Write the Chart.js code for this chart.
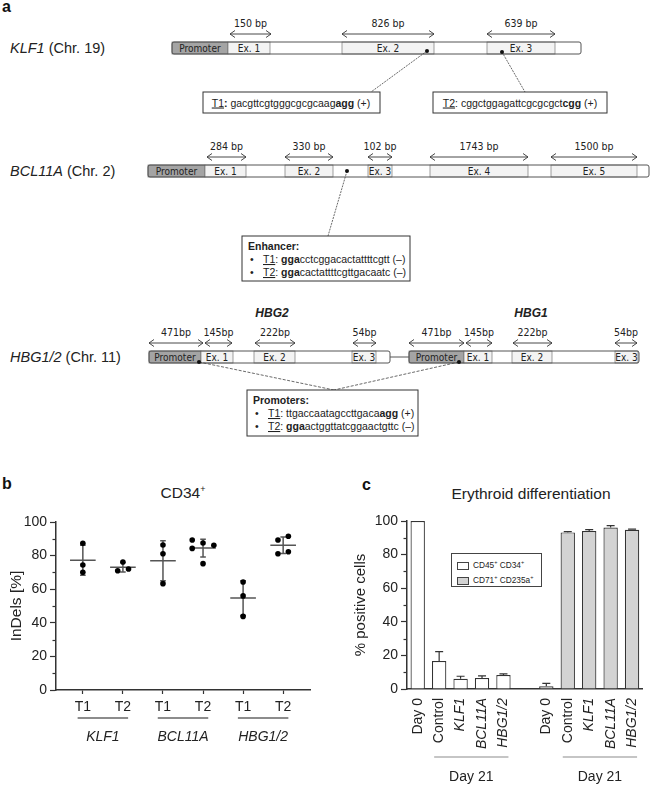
<!DOCTYPE html>
<html>
<head>
<meta charset="utf-8">
<script src="https://cdn.jsdelivr.net/npm/chart.js@4.4.1/dist/chart.umd.min.js"></script>
<style>
html,body{margin:0;padding:0;background:#fff;}
#wrap{position:relative;width:658px;height:785px;overflow:hidden;background:#fff;font-family:'Liberation Sans',Arial,sans-serif;color:#222;}
#diagram{position:absolute;left:0;top:0;}
#cb{position:absolute;left:0;top:470px;}
#cc{position:absolute;left:330px;top:470px;}
.plet{position:absolute;font-weight:bold;font-size:16px;color:#111;}
.ttl{position:absolute;font-size:15.5px;color:#222;text-align:center;white-space:nowrap;}
.ttl sup{font-size:9px;}
#legend{position:absolute;left:451px;top:553px;width:91px;height:34px;border:1px solid #444;background:#fff;font-size:8.3px;color:#222;box-sizing:border-box;}
#legend .row{position:absolute;left:5px;height:10px;line-height:10px;white-space:nowrap;}
#legend .sw{display:inline-block;width:12px;height:8px;border:1px solid #444;vertical-align:middle;margin-right:4px;box-sizing:border-box;}
#legend sup{font-size:5.5px;line-height:0;}
</style>
</head>
<body>
<div id="wrap">
  <svg id="diagram" width="658" height="465" xmlns="http://www.w3.org/2000/svg"></svg>
  <div class="plet" style="left:2px;top:-2px;">a</div>
  <div class="plet" style="left:2px;top:475px;">b</div>
  <div class="plet" style="left:362px;top:476px;">c</div>
  <div class="ttl" style="left:83px;width:200px;top:484px;">CD34<sup>+</sup></div>
  <div class="ttl" style="left:431px;width:200px;top:485px;">Erythroid differentiation</div>
  <canvas id="cb" width="330" height="315"></canvas>
  <canvas id="cc" width="328" height="315"></canvas>
  <div id="legend"></div>
</div>
<script>
// ---------------- Panel b data ----------------
const indelCategories = ['T1', 'T2', 'T1', 'T2', 'T1', 'T2'];
const indelGenes = ['KLF1', 'BCL11A', 'HBG1/2'];
const indelReplicates = [
  [87.3, 74.4, 70.1],
  [76.2, 71.0, 72.0],
  [86.3, 81.1, 63.3],
  [89.3, 84.3, 87.5, 75.2, 86.1],
  [64.3, 56.0, 43.8],
  [89.3, 91.5, 81.1, 82.3]
];
const indelJitter = [
  [0, 0, 0],
  [0, -0.13, 0.14],
  [0, 0, 0],
  [-0.27, -0.27, 0, 0, 0.27],
  [0, 0, 0],
  [-0.13, 0.13, -0.13, 0.13]
];
const indelMean = [77.2, 73.1, 76.9, 84.5, 54.7, 86.1];
const indelSD = [8.9, 2.8, 11.9, 5.3, 10.3, 4.9];
const percentTicks = [0, 20, 40, 60, 80, 100];
const percentMinorTicks = [10, 30, 50, 70, 90];

// ---------------- Panel c data ----------------
const diffCategories = ['Day 0', 'Control', 'KLF1', 'BCL11A', 'HBG1/2', '', 'Day 0', 'Control', 'KLF1', 'BCL11A', 'HBG1/2'];
const italicCategories = ['KLF1', 'BCL11A', 'HBG1/2'];
const cd45cd34Pos = [100, 16.6, 6.1, 6.5, 8.3, null, null, null, null, null, null];
const cd45cd34Sd  = [0, 5.6, 1.5, 1.3, 0.7, null, null, null, null, null, null];
const cd71cd235aPos = [null, null, null, null, null, null, 1.6, 93.2, 94.0, 96.1, 94.8];
const cd71cd235aSd  = [null, null, null, null, null, null, 1.8, 0.5, 0.9, 1.2, 0.4];
const diffGroupLabels = ['Day 21', 'Day 21'];
const diffGroupRanges = [[1, 4], [7, 10]];
const seriesNames = ['CD45⁺ CD34⁺', 'CD71⁺ CD235a⁺'];
const seriesNamesHtml = ['CD45<sup>+</sup> CD34<sup>+</sup>', 'CD71<sup>+</sup> CD235a<sup>+</sup>'];

// ---------------- Panel a (schematic) ----------------
const FONT = "'Liberation Sans', Arial, sans-serif";
const NARROW = "'Liberation Sans Narrow', 'DejaVu Sans Condensed', 'Liberation Sans', sans-serif";
const genes = [
  { italic: 'KLF1', rest: ' (Chr. 19)', top: 42,
    bars: [[172, 581]], promoters: [[172, 228]],
    exons: [[228, 270, 'Ex. 1'], [342, 434, 'Ex. 2'], [487, 555, 'Ex. 3']],
    arrows: [[230, 271, '150 bp'], [342, 434, '826 bp'], [487, 555, '639 bp']] },
  { italic: 'BCL11A', rest: ' (Chr. 2)', top: 165,
    bars: [[148, 649]], promoters: [[148, 205]],
    exons: [[205, 246, 'Ex. 1'], [285, 333, 'Ex. 2'], [368, 392, 'Ex. 3'], [430, 528, 'Ex. 4'], [551, 637, 'Ex. 5']],
    arrows: [[207, 246, '284 bp'], [285, 333, '330 bp'], [368, 392, '102 bp'], [430, 528, '1743 bp'], [551, 637, '1500 bp']] },
  { italic: 'HBG1/2', rest: ' (Chr. 11)', top: 351,
    bars: [[149, 390], [409, 639]], promoters: [[149, 201], [409, 464]],
    exons: [[201, 233, 'Ex. 1'], [254, 295, 'Ex. 2'], [352, 376, 'Ex. 3'], [464, 492, 'Ex. 1'], [512, 552, 'Ex. 2'], [615, 638, 'Ex. 3']],
    arrows: [[149, 203, '471bp'], [205, 232, '145bp'], [255, 295, '222bp'], [353, 376, '54bp'],
             [409, 464, '471bp'], [466, 492, '145bp'], [513, 552, '222bp'], [615, 637, '54bp']] }
];
const H = 12;
let s = '';
function arrow(x1, x2, y) {
  let o = `<line x1="${x1}" y1="${y}" x2="${x2}" y2="${y}" stroke="#333" stroke-width="0.9"/>`;
  o += `<polyline points="${x1+5},${y-3.5} ${x1},${y} ${x1+5},${y+3.5}" fill="none" stroke="#333" stroke-width="0.9"/>`;
  o += `<polyline points="${x2-5},${y-3.5} ${x2},${y} ${x2-5},${y+3.5}" fill="none" stroke="#333" stroke-width="0.9"/>`;
  return o;
}
genes.forEach(g => {
  const cy = g.top + H / 2;
  s += `<text x="10" y="${cy + 5}" font-family="${FONT}" font-size="14.5" fill="#222"><tspan font-style="italic">${g.italic}</tspan>${g.rest}</text>`;
  if (g.bars.length === 2) {
    s += `<line x1="${g.bars[0][1]}" y1="${cy}" x2="${g.bars[1][0]}" y2="${cy}" stroke="#555" stroke-width="1"/>`;
  }
  g.bars.forEach(b => {
    s += `<rect x="${b[0]}" y="${g.top}" width="${b[1]-b[0]}" height="${H}" rx="2" fill="#fff" stroke="none"/>`;
  });
  g.promoters.forEach(p => {
    s += `<rect x="${p[0]}" y="${g.top}" width="${p[1]-p[0]}" height="${H}" fill="#a4a4a4" stroke="#666" stroke-width="0.7"/>`;
    s += `<text x="${(p[0]+p[1])/2}" y="${g.top + 9.5}" text-anchor="middle" font-family="${NARROW}" font-size="10" fill="#222">Promoter</text>`;
  });
  g.exons.forEach(e => {
    s += `<rect x="${e[0]}" y="${g.top}" width="${e[1]-e[0]}" height="${H}" fill="#f3f3f3" stroke="#777" stroke-width="0.7"/>`;
    s += `<text x="${(e[0]+e[1])/2}" y="${g.top + 9.5}" text-anchor="middle" font-family="${NARROW}" font-size="10" fill="#222">${e[2]}</text>`;
  });
  g.bars.forEach(b => {
    s += `<rect x="${b[0]}" y="${g.top}" width="${b[1]-b[0]}" height="${H}" rx="2" fill="none" stroke="#555" stroke-width="1"/>`;
  });
  g.arrows.forEach(a => {
    s += arrow(a[0], a[1], g.top - 8);
    s += `<text x="${(a[0]+a[1])/2}" y="${g.top - 15}" text-anchor="middle" font-family="${NARROW}" font-size="10.5" fill="#222">${a[2]}</text>`;
  });
});
s += `<text x="272" y="317" text-anchor="middle" font-family="${FONT}" font-size="12" font-weight="bold" font-style="italic" fill="#222">HBG2</text>`;
s += `<text x="531" y="317" text-anchor="middle" font-family="${FONT}" font-size="12" font-weight="bold" font-style="italic" fill="#222">HBG1</text>`;
function conn(x1, y1, x2, y2, dash) {
  return `<line x1="${x1}" y1="${y1}" x2="${x2}" y2="${y2}" stroke="#444" stroke-width="0.8" stroke-dasharray="${dash}"/>`;
}
function dot(x, y) { return `<circle cx="${x}" cy="${y}" r="2" fill="#111"/>`; }
s += conn(427, 51, 371, 92, '2,1') + dot(427, 51);
s += conn(502, 52, 525, 92, '2,1') + dot(502, 52);
s += conn(347, 171, 328, 236, '2,1') + dot(347, 171);
s += conn(199, 362, 334, 390, '3,1.5') + conn(459, 362, 334, 390, '3,1.5') + dot(199, 362) + dot(459, 362);
function box(x1, y1, x2, y2) { return `<rect x="${x1}" y="${y1}" width="${x2-x1}" height="${y2-y1}" fill="#fff" stroke="#333" stroke-width="1"/>`; }
const T = `font-family="${FONT}" font-size="10.5" fill="#222"`;
s += box(203, 92, 380, 113);
s += `<text x="291" y="106.5" text-anchor="middle" ${T}><tspan text-decoration="underline">T1</tspan><tspan font-weight="bold">:</tspan> gacgttcgtgggcgcgcaag<tspan font-weight="bold">agg</tspan> (+)</text>`;
s += box(433, 92, 607, 113);
s += `<text x="520" y="106.5" text-anchor="middle" ${T}><tspan text-decoration="underline">T2</tspan>: cggctggagattcgcgcgct<tspan font-weight="bold">cgg</tspan> (+)</text>`;
s += box(242, 236, 410, 281);
s += `<text x="248" y="250" ${T} font-weight="bold">Enhancer:</text>`;
s += `<text x="250" y="263" ${T}>•</text><text x="263" y="263" ${T}><tspan text-decoration="underline">T1</tspan>: <tspan font-weight="bold">gga</tspan>cctcggacactattttcgtt (–)</text>`;
s += `<text x="250" y="276" ${T}>•</text><text x="263" y="276" ${T}><tspan text-decoration="underline">T2</tspan>: <tspan font-weight="bold">gga</tspan>cactattttcgttgacaatc (–)</text>`;
s += box(247, 390, 418, 436);
s += `<text x="253" y="404" ${T} font-weight="bold">Promoters:</text>`;
s += `<text x="255" y="417" ${T}>•</text><text x="268" y="417" ${T}><tspan text-decoration="underline">T1</tspan>: ttgaccaatagccttgaca<tspan font-weight="bold">agg</tspan> (+)</text>`;
s += `<text x="255" y="430" ${T}>•</text><text x="268" y="430" ${T}><tspan text-decoration="underline">T2</tspan>: <tspan font-weight="bold">gga</tspan>actggttatcggaactgttc (–)</text>`;
document.getElementById('diagram').innerHTML = s;

// ---------------- Charts ----------------
Chart.defaults.font.family = FONT;
Chart.defaults.color = '#222';
const AX = '#333';

const minorTickPlugin = {
  id: 'minorTicks',
  afterDraw(chart) {
    const y = chart.scales.y, ctx = chart.ctx, left = chart.chartArea.left;
    ctx.save();
    ctx.strokeStyle = AX; ctx.lineWidth = 1.2;
    percentMinorTicks.forEach(v => {
      const py = Math.round(y.getPixelForValue(v)) + 0.5;
      ctx.beginPath(); ctx.moveTo(left - 3.5, py); ctx.lineTo(left, py); ctx.stroke();
    });
    ctx.restore();
  }
};

// Panel b
const indelPoints = [];
indelReplicates.forEach((vals, i) => vals.forEach((v, k) => indelPoints.push({ x: i + 1 + indelJitter[i][k], y: v })));

const meanSdPlugin = {
  id: 'meanSd',
  beforeDatasetsDraw(chart) {
    const xs = chart.scales.x, ys = chart.scales.y, ctx = chart.ctx;
    ctx.save();
    ctx.strokeStyle = '#555'; ctx.lineWidth = 1.5;
    indelMean.forEach((m, i) => {
      const c = i + 1;
      const x = xs.getPixelForValue(c);
      const hw = xs.getPixelForValue(c + 0.32) - x;
      const cw = xs.getPixelForValue(c + 0.07) - x;
      const ym = ys.getPixelForValue(m), yt = ys.getPixelForValue(m + indelSD[i]), yb = ys.getPixelForValue(m - indelSD[i]);
      ctx.beginPath();
      ctx.moveTo(x - hw, ym); ctx.lineTo(x + hw, ym);
      ctx.moveTo(x, yt); ctx.lineTo(x, yb);
      ctx.moveTo(x - cw, yt); ctx.lineTo(x + cw, yt);
      ctx.moveTo(x - cw, yb); ctx.lineTo(x + cw, yb);
      ctx.stroke();
    });
    ctx.restore();
  },
  afterDraw(chart) {
    const xs = chart.scales.x, ctx = chart.ctx, bottom = chart.chartArea.bottom;
    ctx.save();
    indelGenes.forEach((g, k) => {
      const a = xs.getPixelForValue(2 * k + 1 - 0.13), b = xs.getPixelForValue(2 * k + 2 + 0.13);
      ctx.strokeStyle = '#8c8c8c'; ctx.lineWidth = 2;
      ctx.beginPath(); ctx.moveTo(a, bottom + 28); ctx.lineTo(b, bottom + 28); ctx.stroke();
      ctx.fillStyle = '#222'; ctx.font = 'italic 14px ' + FONT; ctx.textAlign = 'center'; ctx.textBaseline = 'middle';
      ctx.fillText(g, (a + b) / 2, bottom + 47);
    });
    ctx.restore();
  }
};

new Chart(document.getElementById('cb'), {
  type: 'scatter',
  data: { datasets: [{ data: indelPoints, pointRadius: 2.8, pointHoverRadius: 2.8, backgroundColor: '#000', borderColor: '#000', borderWidth: 0 }] },
  options: {
    responsive: false, animation: false, events: [],
    layout: { padding: { left: 0, right: 20, top: 52, bottom: 0 } },
    plugins: { legend: { display: false }, tooltip: { enabled: false }, title: { display: false } },
    scales: {
      x: {
        type: 'linear', min: 0.33, max: 6.67,
        afterBuildTicks: ax => { ax.ticks = indelCategories.map((c, i) => ({ value: i + 1 })); },
        ticks: { callback: v => indelCategories[Math.round(v) - 1], font: { size: 14 }, color: '#222', padding: 5, autoSkip: false, maxRotation: 0 },
        grid: { drawOnChartArea: false, drawTicks: true, tickLength: 4, color: AX, tickColor: AX, tickWidth: 1.2 },
        border: { color: AX, width: 1.5 },
        afterFit: sc => { sc.height = 95; }
      },
      y: {
        min: 0, max: 100,
        afterBuildTicks: ax => { ax.ticks = percentTicks.map(v => ({ value: v })); },
        ticks: { font: { size: 14 }, color: '#222', padding: 3 },
        grid: { drawOnChartArea: false, drawTicks: true, tickLength: 6, color: AX, tickColor: AX, tickWidth: 1.2 },
        border: { color: AX, width: 1.5 },
        title: { display: true, text: 'InDels [%]', font: { size: 15.5 }, color: '#222', padding: { top: 7, bottom: 0 } },
        afterFit: sc => { sc.width = 56; }
      }
    }
  },
  plugins: [meanSdPlugin, minorTickPlugin]
});

// Panel c
const errorBarPlugin = {
  id: 'errBars',
  afterDatasetsDraw(chart) {
    const xs = chart.scales.x, ys = chart.scales.y, ctx = chart.ctx;
    const sets = [[cd45cd34Pos, cd45cd34Sd], [cd71cd235aPos, cd71cd235aSd]];
    ctx.save();
    ctx.strokeStyle = '#333'; ctx.lineWidth = 1.2;
    sets.forEach(([vals, sds]) => {
      vals.forEach((v, i) => {
        if (v === null || !sds[i]) return;
        const x = xs.getPixelForValue(i);
        const y0 = ys.getPixelForValue(v), y1 = ys.getPixelForValue(v + sds[i]);
        ctx.beginPath();
        ctx.moveTo(x, y0); ctx.lineTo(x, y1);
        ctx.moveTo(x - 4, y1); ctx.lineTo(x + 4, y1);
        ctx.stroke();
      });
    });
    ctx.restore();
  },
  afterDraw(chart) {
    const xs = chart.scales.x, ctx = chart.ctx, bottom = chart.chartArea.bottom;
    ctx.save();
    diffGroupRanges.forEach((r, k) => {
      const a = xs.getPixelForValue(r[0]) - 5, b = xs.getPixelForValue(r[1]) + 5;
      ctx.strokeStyle = '#8c8c8c'; ctx.lineWidth = 1.2;
      ctx.beginPath(); ctx.moveTo(a, bottom + 68); ctx.lineTo(b, bottom + 68); ctx.stroke();
      ctx.fillStyle = '#222'; ctx.font = '14px ' + FONT; ctx.textAlign = 'center'; ctx.textBaseline = 'middle';
      ctx.fillText(diffGroupLabels[k], (a + b) / 2, bottom + 88);
    });
    ctx.restore();
  }
};

const seriesColors = ['#ffffff', '#d3d3d3'];
const cChart = new Chart(document.getElementById('cc'), {
  type: 'bar',
  data: {
    labels: diffCategories,
    datasets: [
      { label: seriesNames[0], data: cd45cd34Pos, backgroundColor: seriesColors[0], borderColor: '#333', borderWidth: 1.2, borderSkipped: 'bottom' },
      { label: seriesNames[1], data: cd71cd235aPos, backgroundColor: seriesColors[1], borderColor: '#333', borderWidth: 1.2, borderSkipped: 'bottom' }
    ]
  },
  options: {
    responsive: false, animation: false, events: [],
    layout: { padding: { left: 0, right: 3, top: 51, bottom: 0 } },
    datasets: { bar: { grouped: false, categoryPercentage: 1, barPercentage: 0.67 } },
    plugins: { legend: { display: false }, tooltip: { enabled: false } },
    scales: {
      x: {
        ticks: {
          autoSkip: false, minRotation: 90, maxRotation: 90, padding: 9, color: '#222',
          font: ctx => ({ family: FONT, size: 14, style: italicCategories.includes(diffCategories[ctx.index]) ? 'italic' : 'normal' })
        },
        grid: { display: false, drawTicks: false },
        border: { color: AX, width: 1.5 },
        afterFit: sc => { sc.height = 96; }
      },
      y: {
        min: 0, max: 100,
        afterBuildTicks: ax => { ax.ticks = percentTicks.map(v => ({ value: v })); },
        ticks: { font: { size: 14 }, color: '#222', padding: 3 },
        grid: { drawOnChartArea: false, drawTicks: true, tickLength: 6, color: AX, tickColor: AX, tickWidth: 1.2 },
        border: { color: AX, width: 1.5 },
        title: { display: true, text: '% positive cells', font: { size: 15 }, color: '#222', padding: { top: 22, bottom: 0 } },
        afterFit: sc => { sc.width = 77; }
      }
    }
  },
  plugins: [errorBarPlugin, minorTickPlugin]
});

// HTML legend built from the chart's datasets
const lg = document.getElementById('legend');
cChart.data.datasets.forEach((d, i) => {
  const row = document.createElement('div');
  row.className = 'row';
  row.style.top = (6 + i * 15) + 'px';
  row.innerHTML = `<span class="sw" style="background:${d.backgroundColor}"></span>${seriesNamesHtml[i]}`;
  lg.appendChild(row);
});
</script>
</body>
</html>
